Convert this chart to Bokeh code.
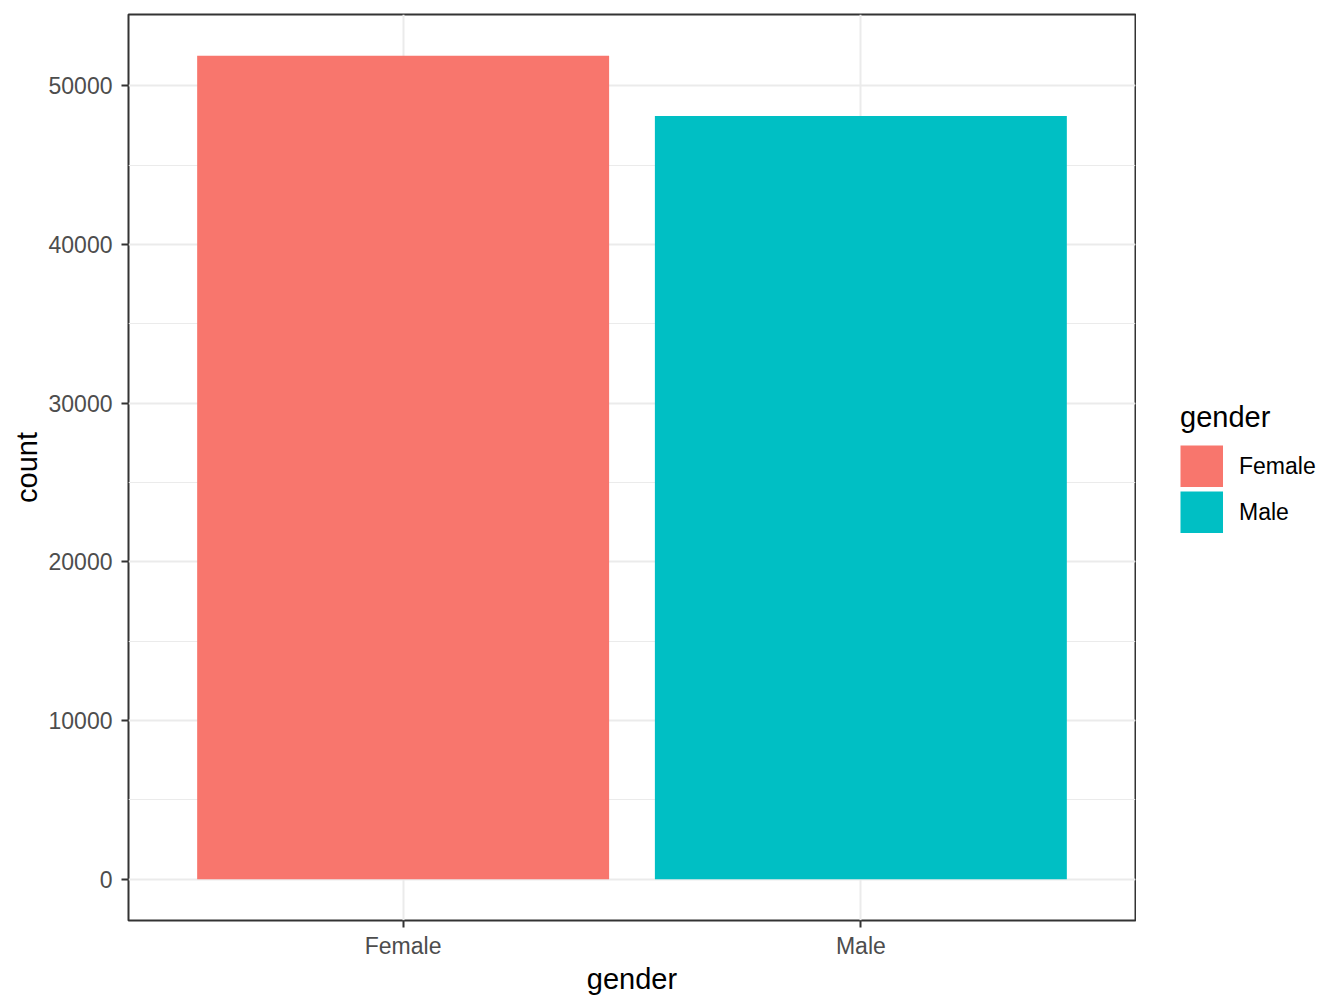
from bokeh.plotting import figure
from bokeh.models import FactorRange, Range1d, SingleIntervalTicker, NumeralTickFormatter, ColumnDataSource
from bokeh.layouts import row
from bokeh.embed import file_html
from bokeh.resources import INLINE

genders = ["Female", "Male"]
counts = [51900, 48100]
colors = ["#F8766D", "#00BFC4"]
y_ticks_interval = 10000

FONT = "Liberation Sans"

src = ColumnDataSource(dict(gender=genders, count=counts, color=colors, zero=[0] * len(genders)))

p = figure(
    x_range=FactorRange(factors=genders, range_padding=0.1, range_padding_units="percent"),
    y_range=Range1d(-2595, 54495),
    width=1136, height=1000,
    output_backend="svg", toolbar_location=None,
    min_border_left=128, min_border_right=1, min_border_top=14, min_border_bottom=80,
    background_fill_color="white", border_fill_color="white",
)

p.vbar(x="gender", top="count", width=0.9, bottom=0, source=src,
       fill_color="color", line_color=None)

# axes
p.yaxis.ticker = SingleIntervalTicker(interval=y_ticks_interval, num_minor_ticks=2)
p.yaxis.formatter = NumeralTickFormatter(format="0")
for ax in (p.xaxis[0], p.yaxis[0]):
    ax.axis_line_color = None
    ax.major_tick_line_color = "#333333"
    ax.major_tick_line_width = 2
    ax.major_tick_out = 7
    ax.major_tick_in = 0
    ax.minor_tick_line_color = None
    ax.major_label_text_font = FONT
    ax.major_label_text_font_size = "23px"
    ax.major_label_text_color = "#4D4D4D"
    ax.axis_label_text_font = FONT
    ax.axis_label_text_font_size = "29px"
    ax.axis_label_text_font_style = "normal"
    ax.axis_label_text_color = "black"
p.xaxis.axis_label = "gender"
p.yaxis.axis_label = "count"
p.xaxis.major_label_standoff = 5
p.yaxis.major_label_standoff = 9
p.xaxis.axis_label_standoff = 1
p.yaxis.axis_label_standoff = 3

# grids
p.xgrid.grid_line_color = "#EBEBEB"
p.xgrid.grid_line_width = 2
p.ygrid.grid_line_color = "#EBEBEB"
p.ygrid.grid_line_width = 2
p.ygrid.minor_grid_line_color = "#EBEBEB"
p.ygrid.minor_grid_line_width = 1

p.outline_line_color = "#333333"
p.outline_line_width = 2

# legend panel (separate figure to the right; its key renderer is hidden)
q = figure(
    x_range=FactorRange(factors=genders),
    y_range=Range1d(1e6, 2e6),
    width=200, height=1000,
    output_backend="svg", toolbar_location=None,
    min_border=0, min_border_left=0, min_border_right=0, min_border_top=0, min_border_bottom=0,
    background_fill_color="white", border_fill_color="white",
)
q.axis.visible = False
q.grid.visible = False
q.outline_line_color = None
key = q.segment(x0="gender", y0="zero", x1="gender", y1="count", source=src,
                line_color="color", line_width=42, line_cap="butt",
                legend_field="gender")
key.visible = False

lg = q.legend[0]
lg.title = "gender"
lg.title_text_font = FONT
lg.title_text_font_size = "29px"
lg.title_text_font_style = "normal"
lg.title_text_color = "black"
lg.title_standoff = 11
lg.label_text_font = FONT
lg.label_text_font_size = "23px"
lg.label_text_color = "black"
lg.glyph_width = 43
lg.glyph_height = 42
lg.label_height = 42
lg.label_standoff = 16
lg.spacing = 4
lg.padding = 0
lg.margin = 0
lg.border_line_color = None
lg.background_fill_alpha = 0
lg.inactive_fill_alpha = 0
lg.location = (44, 387)

layout = row(p, q)
open("out.html", "w").write(file_html(layout, INLINE))
